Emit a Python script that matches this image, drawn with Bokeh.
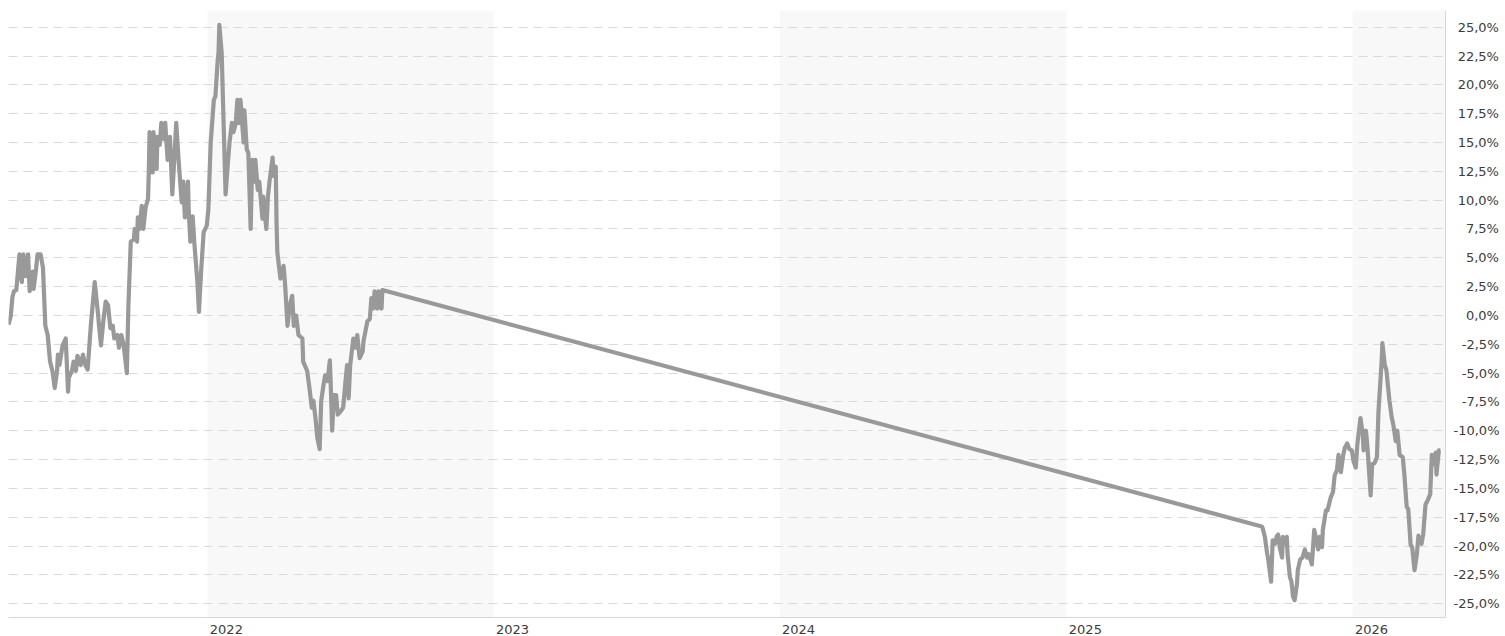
import pandas as pd
from bokeh.plotting import figure
from bokeh.models import FixedTicker, BoxAnnotation, Range1d
from bokeh.embed import file_html
from bokeh.resources import INLINE

# ---------------- data ----------------
dates = [
    "2021-04-22", "2021-04-25", "2021-04-27", "2021-04-29", "2021-05-02", "2021-05-04", "2021-05-06",
    "2021-05-09", "2021-05-11", "2021-05-14", "2021-05-17", "2021-05-19", "2021-05-23", "2021-05-24",
    "2021-05-27", "2021-05-29", "2021-06-02", "2021-06-05", "2021-06-08", "2021-06-11", "2021-06-14",
    "2021-06-17", "2021-06-20", "2021-06-23", "2021-06-24", "2021-06-26", "2021-06-30", "2021-07-04",
    "2021-07-07", "2021-07-08", "2021-07-12", "2021-07-14", "2021-07-17", "2021-07-19", "2021-07-23",
    "2021-07-26", "2021-07-29", "2021-08-01", "2021-08-05", "2021-08-10", "2021-08-14", "2021-08-15",
    "2021-08-18", "2021-08-21", "2021-08-24", "2021-08-27", "2021-08-30", "2021-09-02", "2021-09-04",
    "2021-09-08", "2021-09-10", "2021-09-13", "2021-09-16", "2021-09-20", "2021-09-22", "2021-09-25",
    "2021-09-29", "2021-09-30", "2021-10-03", "2021-10-04", "2021-10-06", "2021-10-09", "2021-10-11",
    "2021-10-14", "2021-10-17", "2021-10-18", "2021-10-19", "2021-10-23", "2021-10-24", "2021-10-28",
    "2021-10-29", "2021-11-01", "2021-11-03", "2021-11-06", "2021-11-08", "2021-11-11", "2021-11-14",
    "2021-11-17", "2021-11-19", "2021-11-22", "2021-11-25", "2021-11-29", "2021-12-01", "2021-12-03",
    "2021-12-07", "2021-12-08", "2021-12-10", "2021-12-13", "2021-12-15", "2021-12-19", "2021-12-21",
    "2021-12-24", "2021-12-27", "2021-12-31", "2022-01-02", "2022-01-05", "2022-01-09", "2022-01-11",
    "2022-01-14", "2022-01-15", "2022-01-16", "2022-01-19", "2022-01-21", "2022-01-24", "2022-01-27",
    "2022-01-29", "2022-02-01", "2022-02-03", "2022-02-06", "2022-02-08", "2022-02-10", "2022-02-12",
    "2022-02-16", "2022-02-17", "2022-02-20", "2022-02-22", "2022-02-25", "2022-02-27", "2022-03-02",
    "2022-03-03", "2022-03-06", "2022-03-08", "2022-03-12", "2022-03-13", "2022-03-17", "2022-03-19",
    "2022-03-21", "2022-03-25", "2022-03-26", "2022-03-29", "2022-03-30", "2022-03-31", "2022-04-02",
    "2022-04-04", "2022-04-08", "2022-04-10", "2022-04-13", "2022-04-16", "2022-04-19", "2022-04-21",
    "2022-04-24", "2022-04-27", "2022-05-02", "2022-05-03", "2022-05-08", "2022-05-11", "2022-05-14",
    "2022-05-16", "2022-05-19", "2022-05-21", "2022-05-24", "2022-05-26", "2022-05-29", "2022-05-31",
    "2022-06-03", "2022-06-06", "2022-06-07", "2022-06-09", "2022-06-11", "2022-06-14", "2022-06-16",
    "2022-06-20", "2022-06-23", "2022-06-26", "2022-06-28", "2022-06-30", "2022-07-02", "2022-07-06",
    "2022-07-09", "2022-07-11", "2022-07-14", "2022-07-18", "2022-07-19", "2022-07-24", "2022-07-27",
    "2022-07-29", "2022-08-01", "2022-08-02", "2022-08-06", "2022-08-07", "2022-08-11", "2022-08-12",
    "2025-09-07", "2025-09-08", "2025-09-11", "2025-09-14", "2025-09-15", "2025-09-19", "2025-09-21",
    "2025-09-24", "2025-09-26", "2025-09-28", "2025-09-30", "2025-10-03", "2025-10-04", "2025-10-07",
    "2025-10-09", "2025-10-10", "2025-10-13", "2025-10-15", "2025-10-17", "2025-10-19", "2025-10-22",
    "2025-10-23", "2025-10-26", "2025-10-29", "2025-11-01", "2025-11-04", "2025-11-06", "2025-11-10",
    "2025-11-13", "2025-11-15", "2025-11-18", "2025-11-20", "2025-11-23", "2025-11-24", "2025-11-28",
    "2025-11-30", "2025-12-04", "2025-12-07", "2025-12-09", "2025-12-12", "2025-12-14", "2025-12-17",
    "2025-12-20", "2025-12-22", "2025-12-25", "2025-12-28", "2025-12-31", "2026-01-02", "2026-01-05",
    "2026-01-07", "2026-01-11", "2026-01-14", "2026-01-15", "2026-01-18", "2026-01-20", "2026-01-24",
    "2026-01-26", "2026-01-29", "2026-02-01", "2026-02-03", "2026-02-07", "2026-02-08", "2026-02-11",
    "2026-02-13", "2026-02-17", "2026-02-20", "2026-02-22", "2026-02-25", "2026-02-27", "2026-03-02",
    "2026-03-06", "2026-03-08", "2026-03-11", "2026-03-13", "2026-03-16", "2026-03-18", "2026-03-21",
    "2026-03-24", "2026-03-26", "2026-03-30", "2026-04-01", "2026-04-04", "2026-04-07", "2026-04-10",
    "2026-04-12", "2026-04-14", "2026-04-17", "2026-04-18", "2026-04-21", "2026-04-23",
]

values = [
    -0.8, 0.0, 1.6, 2.1, 2.2, 3.8, 5.3,
    2.9, 5.3, 3.4, 5.3, 2.1, 3.8, 2.3,
    3.9, 5.3, 5.3, 4.1, -0.9, -1.7, -4.0,
    -4.8, -6.3, -4.8, -3.4, -4.3, -2.6, -2.0,
    -6.6, -5.4, -4.8, -4.0, -4.8, -3.5, -4.3,
    -3.4, -4.3, -4.7, -0.9, 2.9, 0.3, -0.5,
    -2.6, -0.5, 1.2, 0.9, -1.1, -0.9, -2.0,
    -1.7, -2.8, -1.7, -2.6, -5.0, 0.9, 6.4,
    6.6, 7.5, 6.4, 8.5, 7.5, 9.5, 7.5,
    9.4, 10.1, 12.4, 15.9, 12.4, 15.9, 12.7,
    15.5, 14.8, 16.7, 15.3, 16.7, 13.5, 15.5,
    10.5, 12.9, 16.7, 13.5, 9.8, 11.6, 8.5,
    11.6, 9.0, 6.4, 8.6, 6.4, 2.9, 0.3,
    4.1, 7.2, 7.8, 9.2, 15.0, 18.7, 19.0,
    22.2, 22.8, 25.2, 22.8, 17.8, 10.5, 13.3,
    15.0, 16.7, 15.9, 16.7, 18.7, 16.7, 18.7,
    15.0, 17.8, 14.4, 14.1, 7.5, 13.5, 11.6,
    13.5, 10.9, 11.6, 8.4, 10.3, 7.5, 10.3,
    11.6, 13.7, 12.1, 12.9, 8.0, 5.5, 4.3,
    3.2, 4.3, 2.6, -0.9, 0.9, 1.7, -0.9,
    0.0, -1.7, -2.0, -4.0, -4.8, -6.3, -8.0,
    -7.4, -9.1, -10.6, -11.6, -7.4, -6.0, -5.2,
    -5.7, -3.9, -5.7, -10.0, -6.9, -6.9, -8.6,
    -8.3, -8.0, -5.7, -4.3, -7.2, -4.3, -2.0,
    -2.8, -1.7, -3.7, -3.1, -2.2, -0.5, -0.3,
    1.5, 0.6, 2.1, 0.6, 2.1, 0.6, 2.2,
    -18.3, -18.4, -19.2, -20.7, -21.0, -23.1, -19.5,
    -19.8, -19.2, -19.0, -20.1, -21.0, -19.2, -19.8,
    -19.2, -20.7, -22.7, -23.1, -24.4, -24.7, -23.3,
    -22.1, -21.2, -21.0, -20.3, -21.0, -20.7, -21.6,
    -18.6, -19.2, -20.3, -19.2, -20.1, -18.6, -16.9,
    -16.9, -15.8, -15.3, -13.9, -13.4, -12.1, -13.6,
    -12.1, -11.5, -11.1, -11.6, -11.7, -12.6, -13.2,
    -11.2, -8.9, -10.3, -11.7, -10.0, -11.5, -15.6,
    -12.9, -12.8, -12.3, -8.3, -4.0, -2.4, -4.3,
    -4.7, -7.4, -8.9, -9.5, -10.9, -10.0, -12.1,
    -12.3, -13.8, -16.6, -16.8, -19.9, -20.1, -22.1,
    -20.7, -19.1, -19.8, -19.0, -16.4, -16.0, -15.5,
    -12.1, -12.9, -11.9, -13.8, -11.7, -11.7,
]

y_ticks = [25.0, 22.5, 20.0, 17.5, 15.0, 12.5, 10.0, 7.5, 5.0, 2.5, 0.0,
           -2.5, -5.0, -7.5, -10.0, -12.5, -15.0, -17.5, -20.0, -22.5, -25.0]
y_tick_labels = ["25,0%", "22,5%", "20,0%", "17,5%", "15,0%", "12,5%", "10,0%", "7,5%", "5,0%",
                 "2,5%", "0,0%", "-2,5%", "-5,0%", "-7,5%", "-10,0%", "-12,5%", "-15,0%",
                 "-17,5%", "-20,0%", "-22,5%", "-25,0%"]
years = [2022, 2023, 2024, 2025, 2026]
year_labels = ["2022", "2023", "2024", "2025", "2026"]
shaded_years = [2022, 2024, 2026]

x_start = "2021-04-22"
x_end = "2026-04-29 12:00"

# ---------------- figure ----------------
FONT = "DejaVu Sans"
TXT = "#3c3c3c"

p = figure(
    width=1502, height=636,
    x_axis_type="datetime", y_axis_location="right",
    x_range=Range1d(pd.Timestamp(x_start), pd.Timestamp(x_end)),
    y_range=Range1d(-26.2, 26.45),
    output_backend="svg", toolbar_location=None,
    min_border=0, min_border_top=10, min_border_left=8,
    background_fill_color="white", border_fill_color="white",
    outline_line_color=None,
)

# alternating year bands
for yr in shaded_years:
    left = pd.Timestamp(f"{yr}-01-01")
    right = pd.Timestamp(f"{yr + 1}-01-01") if yr + 1 <= 2026 else None
    band = BoxAnnotation(left=left, right=right, fill_color="#f8f8f8", fill_alpha=1.0,
                         line_color=None, level="image")
    p.add_layout(band)

# y grid / axis
yt = FixedTicker(ticks=y_ticks)
p.yaxis.ticker = yt
p.ygrid.ticker = yt
p.ygrid.grid_line_color = "#dadada"
p.ygrid.grid_line_dash = "9 6"
p.ygrid.grid_line_width = 1
p.xgrid.visible = False


def pad_label(s):
    neg = s.startswith("-")
    int_part = s.lstrip("-").split(",")[0]
    return "\u2007" * (2 - len(int_part)) + ("" if neg else "\u2008") + s


p.yaxis.major_label_overrides = {t: pad_label(lbl) for t, lbl in zip(y_ticks, y_tick_labels)}
p.yaxis.axis_line_color = "#d6d6d6"
p.yaxis.major_tick_line_color = None
p.yaxis.minor_tick_line_color = None
p.yaxis.major_label_standoff = 2
p.yaxis.major_label_text_font = FONT
p.yaxis.major_label_text_font_size = "13px"
p.yaxis.major_label_text_color = TXT

# x axis: year labels
x_ticks = [(pd.Timestamp(f"{y}-01-01") + pd.Timedelta(days=24)).value / 1e6 for y in years]
p.xaxis.ticker = FixedTicker(ticks=x_ticks)
p.xaxis.major_label_overrides = {t: lbl for t, lbl in zip(x_ticks, year_labels)}
p.xaxis.axis_line_color = "#d6d6d6"
p.xaxis.major_tick_line_color = None
p.xaxis.minor_tick_line_color = None
p.xaxis.major_label_standoff = 1
p.xaxis.major_label_text_font = FONT
p.xaxis.major_label_text_font_size = "13px"
p.xaxis.major_label_text_color = TXT

# the series
p.line(pd.to_datetime(dates), values, line_color="#999999", line_width=4.2, line_join="round")

open("out.html", "w").write(file_html(p, INLINE))
